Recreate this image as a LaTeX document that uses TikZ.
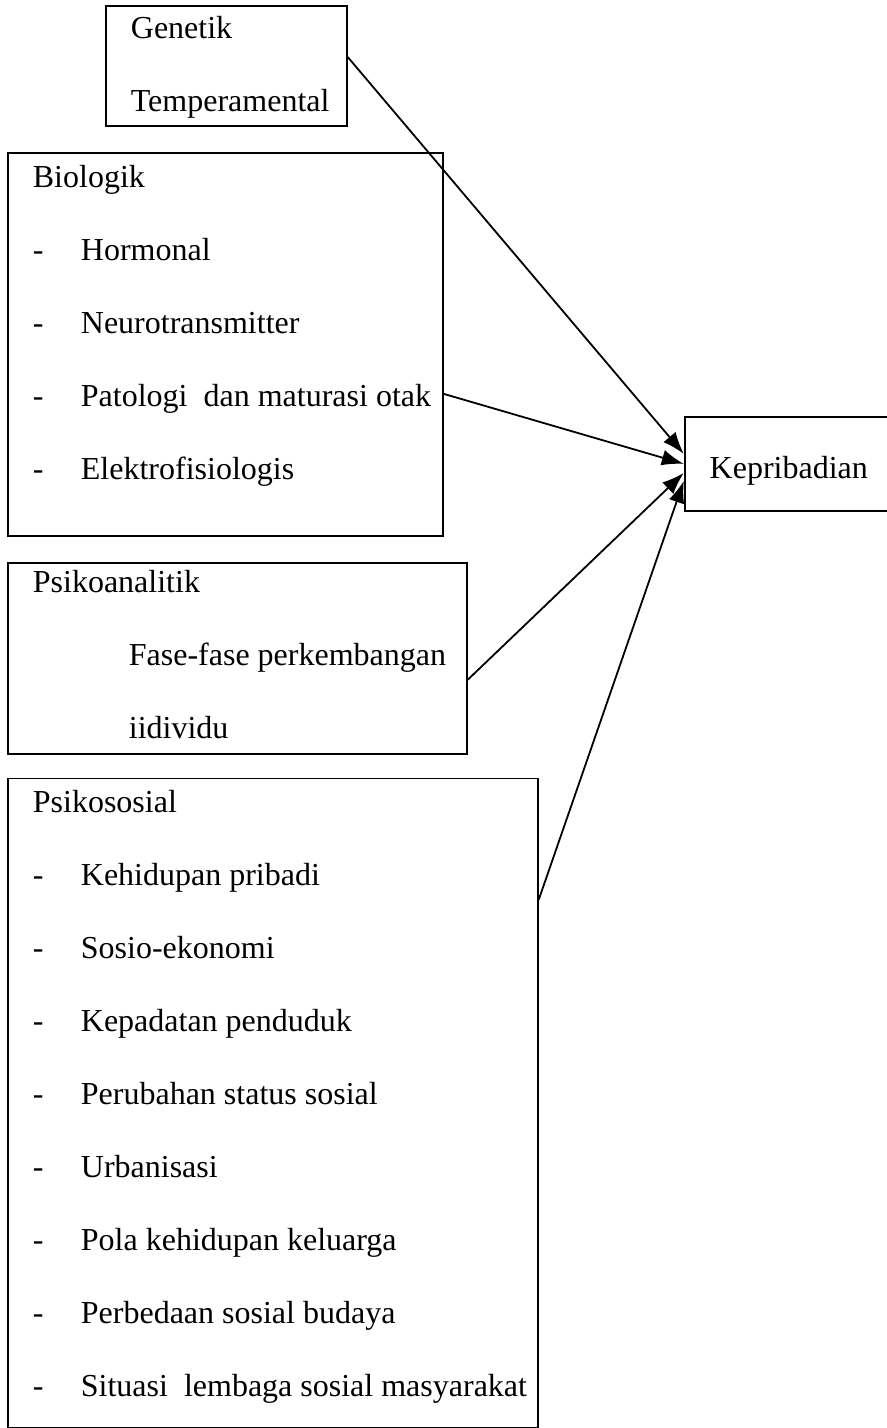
\documentclass[tikz,border=0pt]{standalone}
\usepackage{fontspec}
\setmainfont{Liberation Serif}
\usetikzlibrary{arrows.meta, positioning}

\newcommand{\dashitem}[1]{\makebox[24pt][l]{-}#1}

\begin{document}
\begin{tikzpicture}[x=0.5pt, y=-0.5pt, >={Latex[length=11pt,width=8pt]},
  node distance=12.5pt,
  factor/.style={draw, line width=0.9pt, inner sep=0pt, align=flush left,
    font=\fontsize{16pt}{36.5pt}\selectfont,
    execute at begin node={\leftskip=12.5pt}},
  link/.style={->, line width=0.9pt}]
\useasboundingbox (0,0) rectangle (887,1428);
\node[factor, anchor=north west, text width=217.5pt, text height=17.5pt, text depth=174pt]
  (biologik) at (7,152) {Biologik\\ \dashitem{Hormonal}\\ \dashitem{Neurotransmitter}\\
  \dashitem{Patologi\ \ dan maturasi otak}\\ \dashitem{Elektrofisiologis}};
\node[factor, above right=12.5pt and 49pt of biologik.north west, anchor=south west,
  text width=120.5pt, text height=16pt, text depth=44pt] (genetik) {Genetik\\ Temperamental};
\node[factor, below=of biologik.south west, anchor=north west,
  text width=229.5pt, text height=15pt, text depth=80.5pt] (psikoanalitik)
  {Psikoanalitik\\ \hspace*{48pt}Fase-fase perkembangan\\ \hspace*{48pt}iidividu};
\node[factor, below=11.5pt of psikoanalitik.south west, anchor=north west,
  text width=265pt, text height=17pt, text depth=307.5pt] (psikososial)
  {Psikososial\\ \dashitem{Kehidupan pribadi}\\ \dashitem{Sosio-ekonomi}\\
  \dashitem{Kepadatan penduduk}\\ \dashitem{Perubahan status sosial}\\
  \dashitem{Urbanisasi}\\ \dashitem{Pola kehidupan keluarga}\\
  \dashitem{Perbedaan sosial budaya}\\ \dashitem{Situasi\ \ lembaga sosial masyarakat}};
\node[factor, below right=132pt and 120pt of biologik.north east, anchor=north west,
  text width=140pt, text height=31pt, text depth=16pt] (kepribadian) {Kepribadian};

\draw[link] ([yshift=4.5pt]genetik.east) -- ([yshift=5pt]kepribadian.west);
\draw[link] ([yshift=-24.75pt]biologik.east) -- (kepribadian.west);
\draw[link] ([yshift=-10.75pt]psikoanalitik.east) -- ([yshift=-4.5pt]kepribadian.west);
\draw[link] ([yshift=101.75pt]psikososial.east) -- ([yshift=-8.5pt]kepribadian.west);
\end{tikzpicture}
\end{document}
